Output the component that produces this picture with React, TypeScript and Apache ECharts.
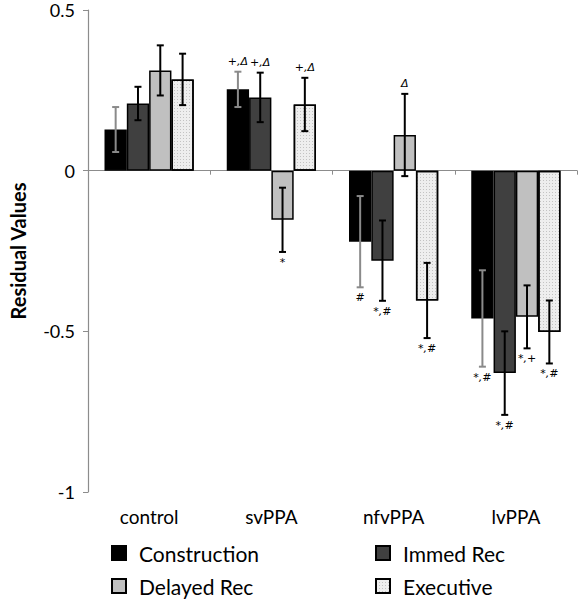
import React, { useEffect, useRef } from "react";
import * as echarts from "echarts";

const categories = ["control", "svPPA", "nfvPPA", "lvPPA"];
const seriesNames = ["Construction", "Immed Rec", "Delayed Rec", "Executive"];

const construction = [0.128, 0.253, -0.221, -0.46];
const immedRec = [0.209, 0.228, -0.28, -0.63];
const delayedRec = [0.312, -0.153, 0.111, -0.455];
const executive = [0.284, 0.206, -0.404, -0.502];

const constructionErr = [0.07, 0.055, 0.142, 0.15];
const immedRecErr = [0.052, 0.077, 0.125, 0.13];
const delayedRecErr = [0.078, 0.1, 0.128, 0.098];
const executiveErr = [0.08, 0.083, 0.117, 0.098];

const constructionSig = ["", "+,Δ", "#", "*,#"];
const immedRecSig = ["", "+,Δ", "*,#", "*,#"];
const delayedRecSig = ["", "*", "Δ", "*,+"];
const executiveSig = ["", "+,Δ", "*,#", "*,#"];

const yTicks = [-1, -0.5, 0, 0.5];

const FONT = "Lato, 'Open Sans', sans-serif";

export default function App() {
  const ref = useRef<HTMLDivElement>(null);
  useEffect(() => {
    if (!ref.current) return;
    const chart = echarts.init(ref.current, undefined, { renderer: "svg" });
    const values = [construction, immedRec, delayedRec, executive];
    const errs = [constructionErr, immedRecErr, delayedRecErr, executiveErr];
    const sigs = [constructionSig, immedRecSig, delayedRecSig, executiveSig];
    const colors = ["#000000", "#404040", "#c0c0c0", "#eeeeee"];
    const errColors = ["#8a8a8a", "#000000", "#000000", "#000000"];
    const gapFrac = 0.27;

    const errData: number[][] = [];
    const errSig: string[] = [];
    values.forEach((vals, s) => {
      vals.forEach((v, c) => {
        errData.push([c, v - errs[s][c], v + errs[s][c], s, v]);
        errSig.push(sigs[s][c]);
      });
    });

    const barSeries = values.map((vals, s) => ({
      name: seriesNames[s],
      type: "bar",
      xAxisIndex: 0,
      yAxisIndex: 0,
      data: vals,
      barGap: "0%",
      barCategoryGap: gapFrac * 100 + "%",
      itemStyle: {
        color: colors[s],
        borderColor: "#000",
        borderWidth: 1.5,
        ...(s === 3
          ? {
              decal: {
                symbol: "rect",
                symbolSize: 1,
                color: "rgba(0,0,0,0.18)",
                dashArrayX: [1, 2],
                dashArrayY: [1, 2],
                rotation: 0,
              },
            }
          : {}),
      },
      emphasis: { disabled: true },
    }));

    const legendPos = [
      { left: 111, top: 542 },
      { left: 375, top: 542 },
      { left: 111, top: 575 },
      { left: 375, top: 575 },
    ];
    const legends = seriesNames.map((n, i) => ({
      data: [n],
      orient: "horizontal",
      left: legendPos[i].left,
      top: legendPos[i].top,
      padding: 0,
      itemWidth: 14,
      itemHeight: 14,
      icon: "rect",
      textStyle: { fontFamily: FONT, fontSize: 21, color: "#000", padding: [0, 0, 0, 8], lineHeight: 22 },
    }));

    chart.setOption({
      animation: false,
      grid: { left: 85, right: 3, top: 10, bottom: 108, containLabel: false },
      legend: legends,
      xAxis: [
        {
          type: "category",
          data: categories,
          axisLine: { onZero: true, lineStyle: { color: "#8c8c8c", width: 1.2 } },
          axisTick: { show: true, length: 4, lineStyle: { color: "#8c8c8c" } },
          axisLabel: { show: false },
          splitLine: { show: false },
        },
        {
          type: "category",
          data: categories,
          position: "bottom",
          axisLine: { show: false, onZero: false },
          axisTick: { show: false },
          axisLabel: { fontFamily: FONT, fontSize: 19, color: "#000", margin: 15 },
          splitLine: { show: false },
        },
      ],
      yAxis: {
        type: "value",
        min: yTicks[0],
        max: yTicks[yTicks.length - 1],
        interval: 0.5,
        name: "Residual Values",
        nameLocation: "middle",
        nameGap: 60,
        nameTextStyle: { fontFamily: FONT, fontSize: 20, fontWeight: "bold", color: "#000" },
        axisLine: { show: true, lineStyle: { color: "#8c8c8c", width: 1.2 } },
        axisTick: { show: true, length: 5, lineStyle: { color: "#8c8c8c" } },
        axisLabel: { fontFamily: FONT, fontSize: 18, color: "#000", margin: 13 },
        splitLine: { show: false },
      },
      series: [
        ...barSeries,
        {
          type: "custom",
          xAxisIndex: 0,
          yAxisIndex: 0,
          data: errData,
          silent: true,
          z: 10,
          renderItem: (params: any, api: any) => {
            const c = api.value(0);
            const low = api.value(1);
            const high = api.value(2);
            const s = api.value(3);
            const v = api.value(4);
            const band = api.size([1, 0])[0];
            const barW = (band * (1 - gapFrac)) / 4;
            const cx = api.coord([c, 0])[0];
            const x = cx + (s - 1.5) * barW;
            const yl = api.coord([c, low])[1];
            const yh = api.coord([c, high])[1];
            const col = errColors[s];
            const style = { stroke: col, lineWidth: 2 };
            const children: any[] = [
              { type: "line", shape: { x1: x, y1: yl, x2: x, y2: yh }, style },
              { type: "line", shape: { x1: x - 3.5, y1: yl, x2: x + 3.5, y2: yl }, style },
              { type: "line", shape: { x1: x - 3.5, y1: yh, x2: x + 3.5, y2: yh }, style },
            ];
            const sig = errSig[params.dataIndex];
            if (sig) {
              const pos = v >= 0;
              children.push({
                type: "text",
                x: x,
                y: pos ? yh - 5 : yl + 5,
                style: {
                  text: sig,
                  fontFamily: "'DejaVu Sans', sans-serif",
                  fontSize: 11,
                  fontStyle: "italic",
                  fill: "#000",
                  align: "center",
                  verticalAlign: pos ? "bottom" : "top",
                },
              });
            }
            return { type: "group", children };
          },
        },
      ],
    });
    return () => chart.dispose();
  }, []);
  return (
    <div
      ref={ref}
      style={{ position: "absolute", left: 0, top: 0, width: 580, height: 600, background: "#fff" }}
    />
  );
}
